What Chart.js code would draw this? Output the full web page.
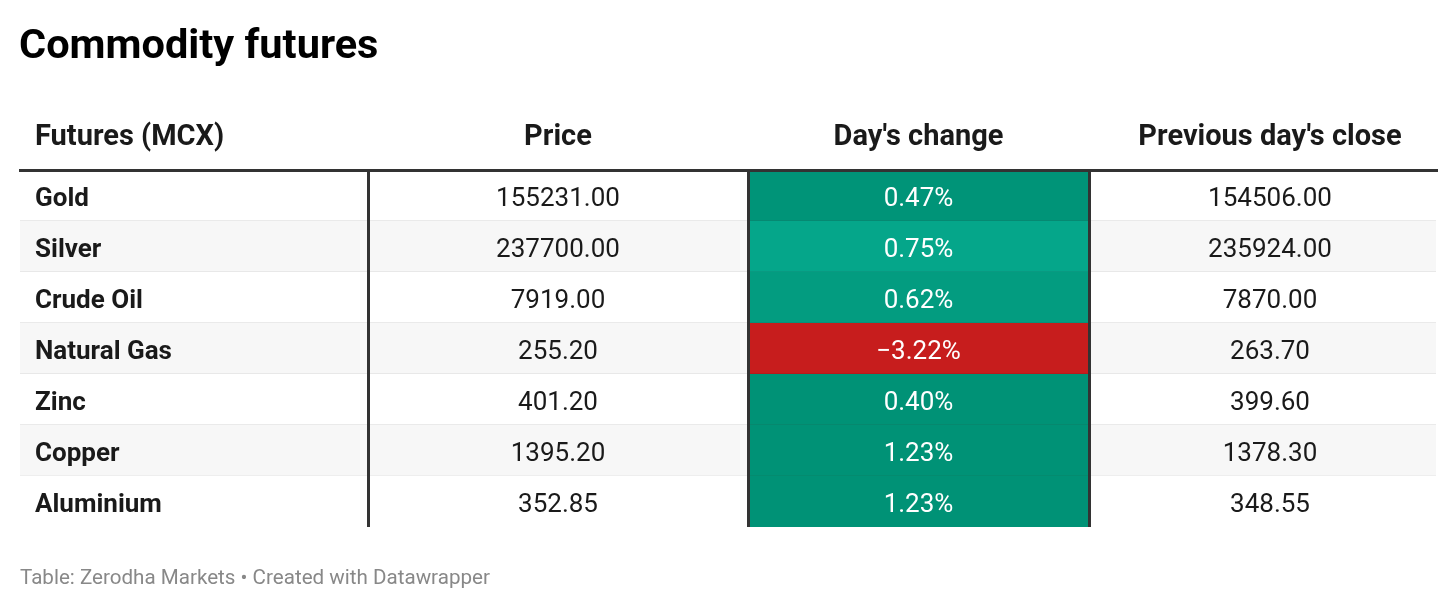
<!DOCTYPE html>
<html>
<head>
<meta charset="utf-8">
<script src="https://cdn.jsdelivr.net/npm/chart.js@4.4.1/dist/chart.umd.min.js"></script>
<style>
  html, body { margin: 0; padding: 0; background: #fff; }
  #wrap { width: 1456px; height: 609px; position: relative; }
</style>
</head>
<body>
<div id="wrap"><canvas id="tbl"></canvas></div>
<script>
// table data
var columns = ['Futures (MCX)', 'Price', "Day's change", "Previous day's close"];
var commodities = ['Gold', 'Silver', 'Crude Oil', 'Natural Gas', 'Zinc', 'Copper', 'Aluminium'];
var prices = ['155231.00', '237700.00', '7919.00', '255.20', '401.20', '1395.20', '352.85'];
var dayChange = [0.47, 0.75, 0.62, -3.22, 0.40, 1.23, 1.23];
var prevClose = ['154506.00', '235924.00', '7870.00', '263.70', '399.60', '1378.30', '348.55'];

// layout (x scale units = px inside the table)
var colEdges = [0, 348, 728, 1069, 1416];
var colTextX = [15, 538, 898.5, 1250];
var cellColors = ['#009478', '#05a68a', '#039c80', '#c71d1d', '#009276', '#009276', '#009276'];
var cellLines = ['#088670', '#0b967e', '#0a8d75', '#b11b1b', '#08856d', '#08856d', '#08856d'];

function fmtChange(v) {
    return (v < 0 ? '\u2212' : '') + Math.abs(v).toFixed(2) + '%';
}

var last = commodities.length - 1;

var textPlugin = {
    id: 'tableText',
    afterDraw: function (chart) {
        var ctx = chart.ctx, x = chart.scales.x, y = chart.scales.y;
        ctx.save();
        // title
        ctx.fillStyle = '#000';
        ctx.font = 'bold 41.5px Roboto';
        ctx.textAlign = 'left';
        ctx.textBaseline = 'alphabetic';
        ctx.fillText('Commodity futures', 19, 58);

        // header
        ctx.fillStyle = '#1a1a1a';
        ctx.font = 'bold 29px Roboto';
        ctx.textBaseline = 'middle';
        columns.forEach(function (c, i) {
            ctx.textAlign = i === 0 ? 'left' : 'center';
            ctx.fillText(c, x.getPixelForValue(colTextX[i]), 138);
        });

        // body
        commodities.forEach(function (name, i) {
            var py = y.getPixelForValue(i) + 3.5;
            ctx.fillStyle = '#1a1a1a';
            ctx.font = 'bold 26px Roboto';
            ctx.textAlign = 'left';
            ctx.fillText(name, x.getPixelForValue(colTextX[0]), py);
            ctx.font = '26px Roboto';
            ctx.textAlign = 'center';
            ctx.fillText(prices[i], x.getPixelForValue(colTextX[1]), py);
            ctx.fillText(prevClose[i], x.getPixelForValue(colTextX[3]), py);
            ctx.fillStyle = '#fff';
            ctx.fillText(fmtChange(dayChange[i]), x.getPixelForValue(colTextX[2]), py);
        });

        // footer
        ctx.fillStyle = '#888';
        ctx.font = '20.6px Roboto';
        ctx.textAlign = 'left';
        ctx.textBaseline = 'alphabetic';
        ctx.fillText('Table: Zerodha Markets \u2022 Created with Datawrapper', 20, 584);
        ctx.restore();
    }
};

var tbl = new Chart(document.getElementById('tbl'), {
    type: 'bar',
    data: {
        labels: commodities,
        datasets: [{
            // row stripes + separators
            data: commodities.map(function () { return [colEdges[0], colEdges[4]]; }),
            backgroundColor: commodities.map(function (c, i) { return i % 2 ? '#f7f7f7' : '#ffffff'; }),
            borderColor: '#e3e3e3',
            borderWidth: commodities.map(function (c, i) { return i < last ? { bottom: 1 } : 0; }),
            borderSkipped: false,
            order: 2
        }, {
            // day's change cells
            data: dayChange.map(function () { return [colEdges[2], colEdges[3]]; }),
            backgroundColor: cellColors,
            borderColor: cellLines,
            borderWidth: commodities.map(function (c, i) { return i < last ? { bottom: 1 } : 0; }),
            borderSkipped: false,
            order: 1
        }]
    },
    options: {
        indexAxis: 'y',
        responsive: true,
        maintainAspectRatio: false,
        animation: false,
        grouped: false,
        barPercentage: 1,
        categoryPercentage: 1,
        layout: { padding: { left: 20, right: 20, top: 170, bottom: 82 } },
        plugins: { legend: { display: false }, tooltip: { enabled: false }, title: { display: false } },
        scales: {
            x: {
                type: 'linear',
                position: 'top',
                min: colEdges[0],
                max: colEdges[4],
                afterBuildTicks: function (s) {
                    s.ticks = colEdges.slice(1, 4).map(function (v) { return { value: v }; });
                },
                afterFit: function (s) { s.height = 0; },
                ticks: { display: false },
                grid: { color: '#333', lineWidth: 3, drawTicks: false, z: 1 },
                border: { display: true, color: '#333', width: 3, z: 1 }
            },
            y: {
                display: false
            }
        }
    },
    plugins: [textPlugin]
});
</script>
</body>
</html>
